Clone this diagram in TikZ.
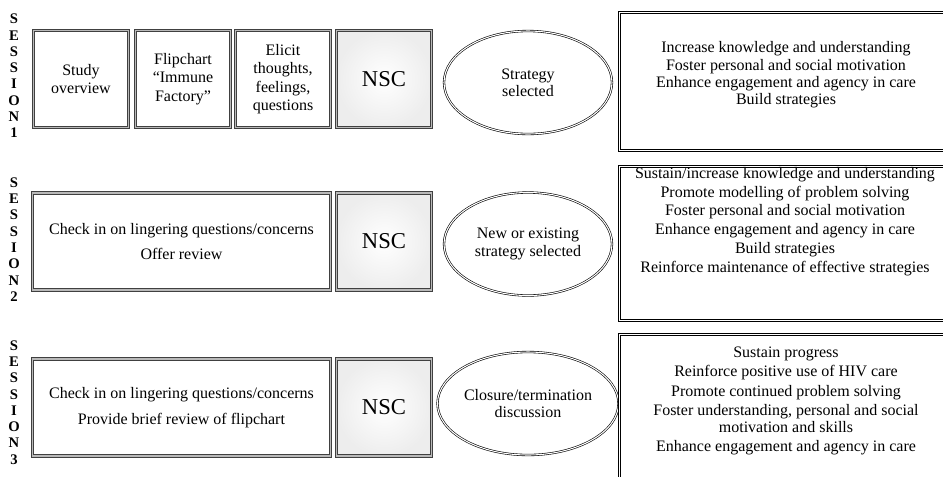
\documentclass[tikz,border=0pt]{standalone}
\usepackage{fontspec}
\setmainfont{Liberation Serif}
\usetikzlibrary{shapes.geometric}

\begin{document}
\begin{tikzpicture}[x=0.75pt, y=-0.75pt,
    actbox/.style={draw=black!75, double=gray!55, line width=0.5pt, double distance=1.3pt,
        fill=white, minimum width=71.25pt, minimum height=72.75pt, inner sep=1pt,
        align=center, font=\fontsize{12}{13.8}\selectfont},
    widebox/.style={actbox, minimum width=223.5pt},
    nscbox/.style={actbox, inner color=white, outer color=gray!14,
        font=\fontsize{17}{20}\selectfont},
    stratell/.style={ellipse, draw=black, double=white, line width=0.45pt, double distance=0.8pt,
        minimum width=126pt, minimum height=77.25pt, inner sep=0pt,
        align=center, font=\fontsize{12}{13}\selectfont},
    goalframe/.style={draw=black, double=white, line width=0.55pt, double distance=1.2pt},
    goaltext/.style={align=center, inner sep=0pt},
    sesslabel/.style={align=center, inner sep=0pt, font=\fontsize{11}{12.2}\selectfont\bfseries}
]
\clip (0,0) rectangle (943,476);

% Session 1
\node[sesslabel] (lab1) at (14,76) {S\\E\\S\\S\\I\\O\\N\\1};
\node[actbox] (study) at (81,79) {Study\\overview};
\node[actbox] (flip) at (183,79) {Flipchart\\``Immune\\Factory''};
\node[actbox] (elicit) at (283,79) {Elicit\\thoughts,\\feelings,\\questions};
\node[nscbox] (nsc1) at (384,79) {NSC};
\node[stratell] (ell1) at (528,82.5) {Strategy\\selected};
\draw[goalframe] (619.5,12.5) rectangle (962,150.5);
\node[goaltext, font=\fontsize{12}{13}\selectfont] (goal1) at (786,75)
    {Increase knowledge and understanding\\Foster personal and social motivation\\
     Enhance engagement and agency in care\\Build strategies};

% Session 2
\node[sesslabel] (lab2) at (14,239.5) {S\\E\\S\\S\\I\\O\\N\\2};
\node[widebox] (check2) at (181.5,241.5) {Check in on lingering questions/concerns\\[5pt]Offer review};
\node[nscbox] (nsc2) at (384,241.5) {NSC};
\node[stratell] (ell2) at (528,244) {New or existing\\strategy selected};
\draw[goalframe] (619.5,166.5) rectangle (962,320.5);
\node[goaltext, font=\fontsize{12}{14.1}\selectfont] (goal2) at (785,221.5)
    {Sustain/increase knowledge and understanding\\Promote modelling of problem solving\\
     Foster personal and social motivation\\Enhance engagement and agency in care\\
     Build strategies\\Reinforce maintenance of effective strategies};

% Session 3
\node[sesslabel] (lab3) at (14,402.5) {S\\E\\S\\S\\I\\O\\N\\3};
\node[widebox] (check3) at (181.5,407.5) {Check in on lingering questions/concerns\\[6pt]Provide brief review of flipchart};
\node[nscbox] (nsc3) at (384,407.5) {NSC};
\node[stratell] (ell3) at (528,403.5) {Closure/termination\\discussion};
\draw[goalframe] (619.5,334.5) rectangle (962,520);
\node[goaltext, font=\fontsize{12}{12.4}\selectfont] (goal3) at (786,401)
    {Sustain progress\\[2.2pt]Reinforce positive use of HIV care\\[2.2pt]
     Promote continued problem solving\\[2.2pt]Foster understanding, personal and social\\
     motivation and skills\\[2.2pt]Enhance engagement and agency in care};
\end{tikzpicture}
\end{document}
